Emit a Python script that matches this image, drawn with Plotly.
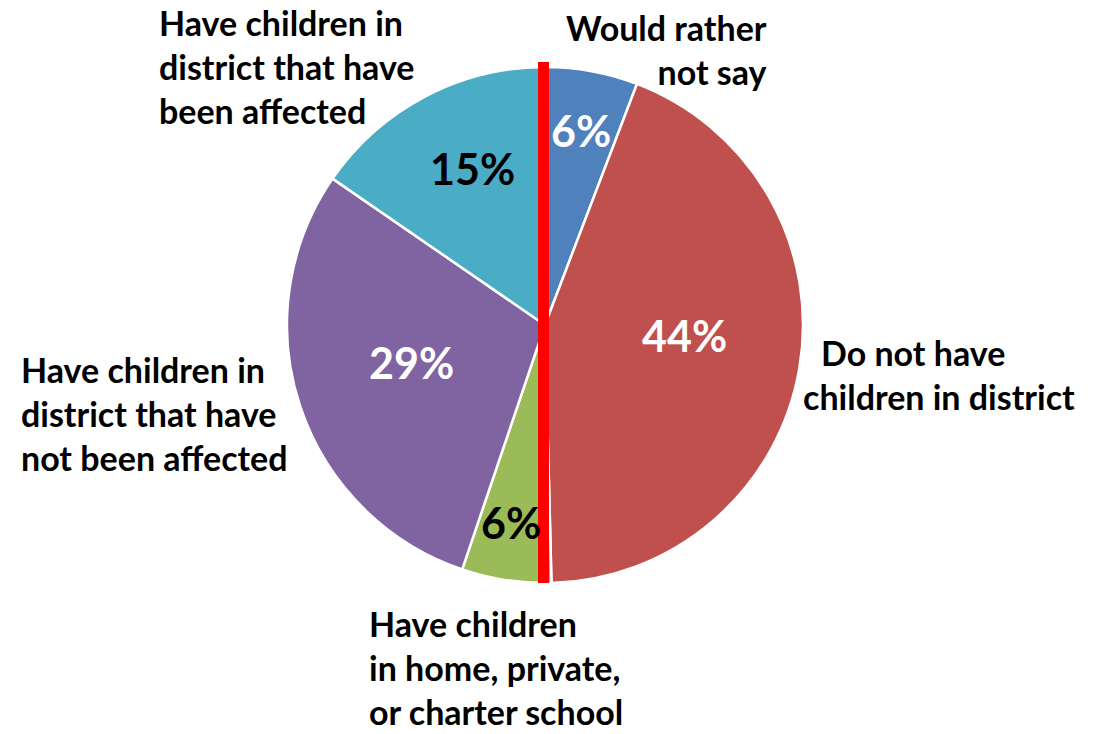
import plotly.graph_objects as go

W, H = 1109, 734

categories = [
    "Would rather<br>not say",
    "Do not have<br>children in district",
    "Have children<br>in home, private,<br>or charter school",
    "Have children in<br>district that have<br>not been affected",
    "Have children in<br>district that have<br>been affected",
]
values = [5.8, 43.8, 5.6, 29.4, 15.4]
colors = ["#4F81BD", "#C0504D", "#9BBB59", "#8064A2", "#4BACC6"]
pct_font_colors = ["white", "white", "black", "white", "black"]

FONT = "Lato"

# pie geometry (screen pixels)
cx, cy, r = 545, 325, 258

def px(x):
    return x / W

def py(y):
    return 1 - y / H

fig = go.Figure(go.Pie(
    labels=categories,
    values=values,
    sort=False,
    direction="clockwise",
    rotation=0,
    marker=dict(colors=colors, line=dict(color="white", width=2.5)),
    textinfo="none",
    hoverinfo="label+percent",
    domain=dict(x=[px(cx - r), px(cx + r)], y=[py(cy + r), py(cy - r)]),
    showlegend=False,
))

# percentage labels (text from data)
pct_pos = [(581, 130), (684, 335), (511, 522), (411, 362), (472, 168)]
total = sum(values)
annotations = []
for v, c, (x, y) in zip(values, pct_font_colors, pct_pos):
    annotations.append(dict(
        x=px(x), y=py(y), xref="paper", yref="paper",
        text=f"<b>{round(100 * v / total)}%</b>", showarrow=False,
        font=dict(family=FONT, size=43, color=c),
        xanchor="center", yanchor="middle",
    ))

# category labels
lab_font = dict(family=FONT, size=34, color="black")
label_specs = [
    # (text, x, y, xanchor, align)
    (categories[0], 769, 49, "right", "right"),
    (categories[2], 367, 667, "left", "left"),
    (categories[3], 19, 413, "left", "left"),
    (categories[4], 157, 67, "left", "left"),
]
for t, x, y, xa, al in label_specs:
    annotations.append(dict(
        x=px(x), y=py(y), xref="paper", yref="paper",
        text=f"<b>{t}</b>", showarrow=False, font=lab_font,
        xanchor=xa, yanchor="middle", align=al,
    ))
# "Do not have / children in district" lines are offset individually
for t, x, y in zip(categories[1].split("<br>"), [819, 801], [352, 396]):
    annotations.append(dict(
        x=px(x), y=py(y), xref="paper", yref="paper",
        text=f"<b>{t}</b>", showarrow=False, font=lab_font,
        xanchor="left", yanchor="middle",
    ))

fig.update_layout(
    width=W, height=H,
    margin=dict(l=0, r=0, t=0, b=0),
    paper_bgcolor="white", plot_bgcolor="white",
    annotations=annotations,
    shapes=[dict(
        type="rect", xref="paper", yref="paper",
        x0=px(538), x1=px(549), y0=py(583), y1=py(62),
        fillcolor="#FF0000", line=dict(width=0), layer="above",
    )],
)

fig.write_html(
    "out.html",
    config={"displayModeBar": False},
    post_script="document.body.style.margin='0';document.body.style.overflow='hidden';",
)
